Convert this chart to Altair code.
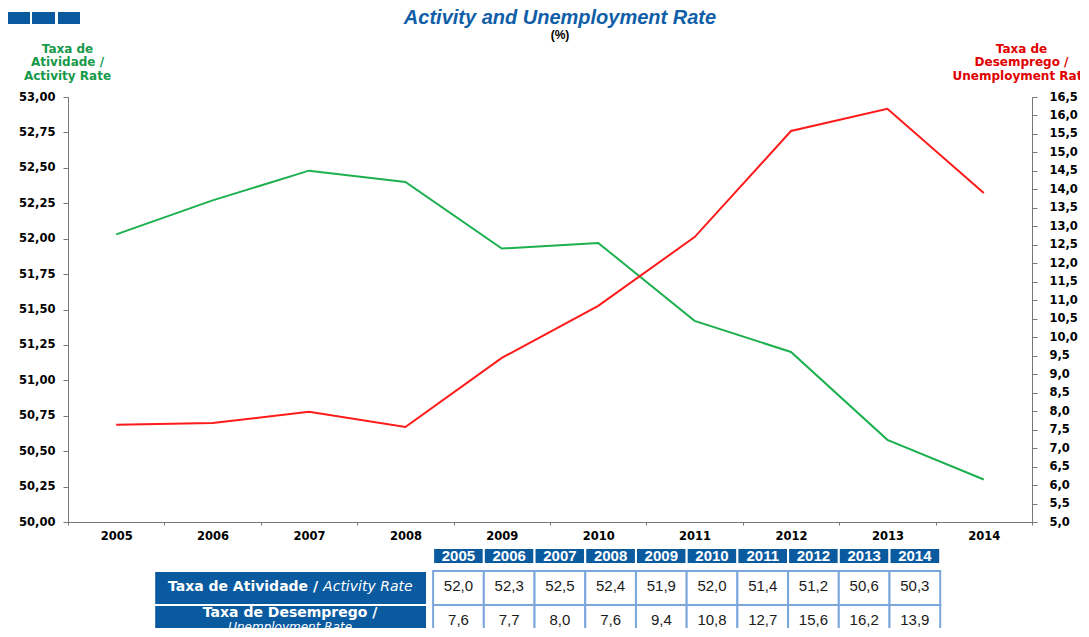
import altair as alt
import pandas as pd

# ---------------- data ----------------
years = ["2005", "2006", "2007", "2008", "2009", "2010", "2011", "2012", "2013", "2014"]
activity_rate = [52.03, 52.27, 52.48, 52.40, 51.93, 51.97, 51.42, 51.20, 50.58, 50.30]
unemployment_rate = [7.63, 7.68, 7.98, 7.57, 9.44, 10.85, 12.71, 15.58, 16.18, 13.90]

activity_table = [52.0, 52.3, 52.5, 52.4, 51.9, 52.0, 51.4, 51.2, 50.6, 50.3]
unemployment_table = [7.6, 7.7, 8.0, 7.6, 9.4, 10.8, 12.7, 15.6, 16.2, 13.9]

left_ticks = [50.00, 50.25, 50.50, 50.75, 51.00, 51.25, 51.50, 51.75, 52.00, 52.25, 52.50, 52.75, 53.00]
right_ticks = [5.0, 5.5, 6.0, 6.5, 7.0, 7.5, 8.0, 8.5, 9.0, 9.5, 10.0, 10.5, 11.0, 11.5,
               12.0, 12.5, 13.0, 13.5, 14.0, 14.5, 15.0, 15.5, 16.0, 16.5]

left_title = ["Taxa de", "Atividade /", "Activity Rate"]
right_title = ["Taxa de", "Desemprego /", "Unemployment Rate"]
row_keys = ["act", "unemp"]
row_pt = ["Taxa de Atividade /", "Taxa de Desemprego /"]
row_en = ["Activity Rate", "Unemployment Rate"]

# ---------------- styles ----------------
GREEN = "#1db04f"
RED = "#ff1a1a"
BLUE = "#0a5aa0"
CELL_BORDER = "#7ba6dc"
AXIS_GRAY = "#777777"
LBL_FONT = "DejaVu Sans"

W, H = 964, 425

lines_df = pd.DataFrame({"year": years, "activity": activity_rate, "unemployment": unemployment_rate})

x_enc = alt.X(
    "year:O",
    bandPosition=0.5,
    scale=alt.Scale(type="band", paddingInner=0, paddingOuter=0),
    axis=alt.Axis(
        title=None, labelAngle=0, labelFont=LBL_FONT, labelFontWeight="bold",
        labelFontSize=11.5, labelColor="black", labelPadding=5, tickBand="extent",
        tickSize=3, tickColor=AXIS_GRAY, domainColor=AXIS_GRAY, grid=False,
    ),
)

base = alt.Chart(lines_df)

green_line = base.mark_line(color=GREEN, strokeWidth=2).encode(
    x=x_enc,
    y=alt.Y(
        "activity:Q",
        scale=alt.Scale(domain=[50, 53], nice=False, zero=False),
        axis=alt.Axis(
            orient="left", values=left_ticks,
            labelExpr="replace(format(datum.value, '.2f'), '.', ',')",
            labelFont=LBL_FONT, labelFontWeight="bold", labelFontSize=11.5, labelColor="black",
            labelPadding=8, tickSize=5, tickColor=AXIS_GRAY, domainColor=AXIS_GRAY, grid=False,
            title=left_title, titleAngle=0, titleAlign="center", titleBaseline="top",
            titleX=-1, titleY=-54, titleFont=LBL_FONT, titleFontSize=12, titleFontWeight="bold",
            titleColor="#17994a", titleLineHeight=13.5,
        ),
    ),
)

red_line = base.mark_line(color=RED, strokeWidth=2).encode(
    x=x_enc,
    y=alt.Y(
        "unemployment:Q",
        scale=alt.Scale(domain=[5, 16.5], nice=False, zero=False),
        axis=alt.Axis(
            orient="right", values=right_ticks,
            labelExpr="replace(format(datum.value, '.1f'), '.', ',')",
            labelFont=LBL_FONT, labelFontWeight="bold", labelFontSize=11.5, labelColor="black",
            labelPadding=12, tickSize=5, tickColor=AXIS_GRAY, domainColor=AXIS_GRAY, grid=False,
            title=right_title, titleAngle=0, titleAlign="center", titleBaseline="top",
            titleX=-11, titleY=-54, titleFont=LBL_FONT, titleFontSize=12, titleFontWeight="bold",
            titleColor="#e00000", titleLineHeight=13.5,
        ),
    ),
)

# decorative logo blocks (top-left)
logo_df = pd.DataFrame({"k": [0]})
logo_layers = []
for x0, x1 in [(-60, -38), (-36, -13), (-10, 12)]:
    logo_layers.append(
        alt.Chart(logo_df).mark_rect(color=BLUE).encode(
            x=alt.value(x0), x2=alt.value(x1), y=alt.value(-85), y2=alt.value(-73)
        )
    )

lines_chart = alt.layer(green_line, red_line, *logo_layers).resolve_scale(y="independent").properties(
    width=W, height=H,
    title=alt.TitleParams(
        text="Activity and Unemployment Rate", subtitle="(%)", anchor="middle", dx=10,
        font="Liberation Sans", fontSize=20, fontStyle="italic", fontWeight="bold", color="#105ea8",
        subtitleFont="Liberation Sans", subtitleFontSize=12, subtitleFontWeight="bold",
        subtitleColor="black", subtitlePadding=2, offset=-29,
    ),
)

# ---------------- table ----------------
x_table = alt.Scale(domain=[-7.2, 11.81], nice=False, zero=False)

header_df = pd.DataFrame({"year": years, "col": list(range(len(years))), "row": ["hdr"] * len(years)})
header_base = alt.Chart(header_df).transform_calculate(
    x0="datum.col", x1="datum.col + 1", xc="datum.col + 0.5"
)
y_hdr = alt.Y("row:N", axis=None, scale=alt.Scale(paddingInner=0, paddingOuter=0))
header_rect = header_base.mark_rect(color=BLUE, stroke="white", strokeWidth=2).encode(
    x=alt.X("x0:Q", scale=x_table, axis=None), x2="x1:Q", y=y_hdr
)
header_text = header_base.mark_text(color="white", font="Liberation Sans", fontWeight="bold", fontSize=15).encode(
    x=alt.X("xc:Q", scale=x_table, axis=None), y=y_hdr, text="year:N"
)
header_chart = alt.layer(header_rect, header_text).properties(width=W, height=16)

cells = []
for rk, vals in zip(row_keys, [activity_table, unemployment_table]):
    for i, (yr, v) in enumerate(zip(years, vals)):
        cells.append({"year": yr, "col": i, "row": rk, "value": v})
cells_df = pd.DataFrame(cells)
labels_df = pd.DataFrame({"row": row_keys, "pt": row_pt, "en": row_en})

y_rows = alt.Y("row:N", axis=None, scale=alt.Scale(domain=row_keys, paddingInner=0, paddingOuter=0))

cells_base = alt.Chart(cells_df).transform_calculate(
    x0="datum.col", x1="datum.col + 1", xc="datum.col + 0.5",
    label="replace(format(datum.value, '.1f'), '.', ',')",
)
cell_rect = cells_base.mark_rect(fill="white", stroke=CELL_BORDER, strokeWidth=2).encode(
    x=alt.X("x0:Q", scale=x_table, axis=None), x2="x1:Q", y=y_rows
)
cell_text = cells_base.mark_text(color="#1a1a1a", font="Liberation Sans", fontSize=15, dy=-2).encode(
    x=alt.X("xc:Q", scale=x_table, axis=None), y=y_rows, text="label:N"
)

label_base = alt.Chart(labels_df)
label_rect = label_base.mark_rect(color=BLUE, stroke="white", strokeWidth=2).encode(
    x=alt.X(datum=-5.5, scale=x_table, axis=None), x2=alt.X2(datum=-0.12), y=y_rows
)
label_center = alt.X(datum=-2.82, scale=x_table, axis=None)
lbl1_pt = label_base.transform_filter("datum.row == 'act'").mark_text(
    color="white", font=LBL_FONT, fontWeight="bold", fontSize=14, align="right", dx=28, dy=-1
).encode(x=label_center, y=y_rows, text="pt:N")
lbl1_en = label_base.transform_filter("datum.row == 'act'").mark_text(
    color="white", font=LBL_FONT, fontStyle="italic", fontSize=14, align="left", dx=33, dy=-1
).encode(x=label_center, y=y_rows, text="en:N")
lbl2_pt = label_base.transform_filter("datum.row == 'unemp'").mark_text(
    color="white", font=LBL_FONT, fontWeight="bold", fontSize=14, align="center", dy=-9
).encode(x=label_center, y=y_rows, text="pt:N")
lbl2_en = label_base.transform_filter("datum.row == 'unemp'").mark_text(
    color="white", font=LBL_FONT, fontStyle="italic", fontSize=12, align="center", dy=5
).encode(x=label_center, y=y_rows, text="en:N")

rows_chart = alt.layer(cell_rect, cell_text, label_rect, lbl1_pt, lbl1_en, lbl2_pt, lbl2_en).properties(
    width=W, height=68
)

chart = alt.vconcat(lines_chart, header_chart, rows_chart, spacing=5).configure_view(
    stroke=None
).properties(
    padding={"left": 0, "top": 0, "right": -11, "bottom": -12}
)

chart.save("out.html", embed_options={"renderer": "svg", "actions": False})
